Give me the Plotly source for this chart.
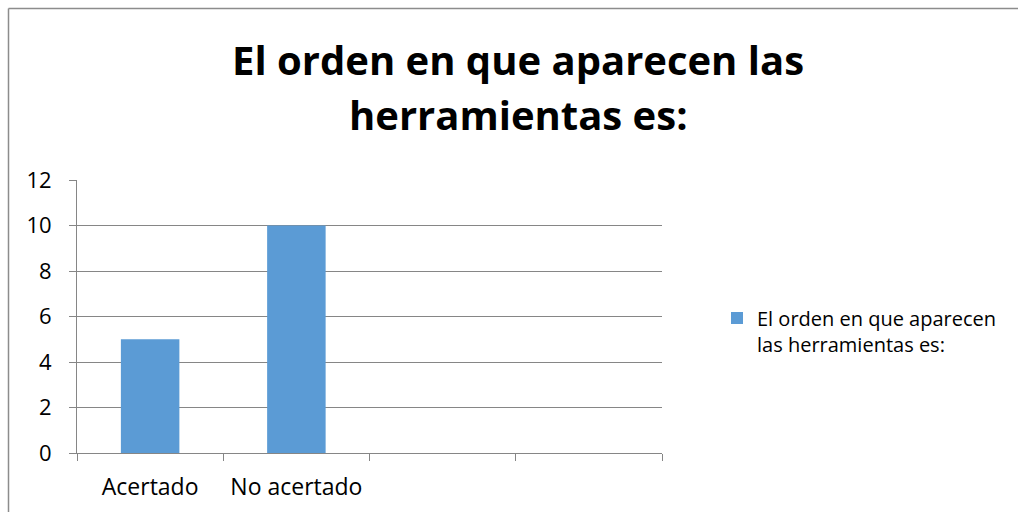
import plotly.graph_objects as go

categories = ["Acertado", "No acertado", " ", "  "]
values = [5, 10, None, None]
series_name = "El orden en que aparecen<br>las herramientas es:"
title_lines = ["El orden en que aparecen las", "herramientas es:"]
y_ticks = [0, 2, 4, 6, 8, 10, 12]

W, H = 1018, 512
L, R, T, B = 77, 356, 180, 59
FONT = "Open Sans"

fig = go.Figure()
fig.add_trace(go.Bar(
    x=categories, y=values, name=series_name,
    marker=dict(color="#5B9BD5", line=dict(width=0)),
    width=0.4, showlegend=True,
))

fig.update_layout(
    width=W, height=H,
    margin=dict(l=L, r=R, t=T, b=B, pad=0, autoexpand=False),
    paper_bgcolor="white", plot_bgcolor="white",
    font=dict(family=FONT, color="black", size=20),
    legend=dict(x=717 / W, xanchor="left", y=1 - 331 / H, yanchor="middle",
                xref="container", yref="container", valign="top",
                font=dict(family=FONT, size=20, color="black"),
                bgcolor="rgba(0,0,0,0)", tracegroupgap=0),
    showlegend=True,
)

for line, cy in zip(title_lines, [59, 115]):
    fig.add_annotation(text=f"<b>{line}</b>", xref="paper", yref="paper",
                       x=(518 - L) / (W - L - R), y=(H - B - cy) / (H - T - B),
                       xanchor="center", yanchor="middle", showarrow=False,
                       font=dict(family=FONT, size=40, color="black"))

fig.update_xaxes(
    type="category", categoryorder="array", categoryarray=categories,
    showline=True, linecolor="#868686", linewidth=1,
    ticks="outside", tickson="boundaries", ticklen=7, tickcolor="#868686",
    showgrid=False, tickfont=dict(family=FONT, size=23, color="black"),
    range=[-0.5, 3.5], fixedrange=True, ticklabelstandoff=13,
    automargin=False,
)
fig.update_yaxes(
    range=[0, 12], tickvals=y_ticks,
    showline=True, linecolor="#868686", linewidth=1,
    ticks="outside", ticklen=7, tickcolor="#868686",
    showgrid=True, gridcolor="#868686", gridwidth=1,
    zeroline=False, tickfont=dict(family=FONT, size=22, color="black"),
    ticklabelstandoff=13, automargin=False,
)

# outer chart frame (top and left edges visible)
pw, ph = W - L - R, H - T - B
fig.add_shape(type="line", xref="paper", yref="paper",
              x0=(8.5 - L) / pw, x1=(W - L + 5) / pw,
              y0=(H - B - 8.5) / ph, y1=(H - B - 8.5) / ph,
              line=dict(color="#8c8c8c", width=1.5))
fig.add_shape(type="line", xref="paper", yref="paper",
              x0=(8.5 - L) / pw, x1=(8.5 - L) / pw,
              y0=(H - B - 8.5) / ph, y1=-(B + 5) / ph,
              line=dict(color="#8c8c8c", width=1.5))

fig.write_html(
    "out.html",
    config={"displayModeBar": False},
    post_script="document.body.style.margin='0';document.body.style.overflow='hidden';",
)
